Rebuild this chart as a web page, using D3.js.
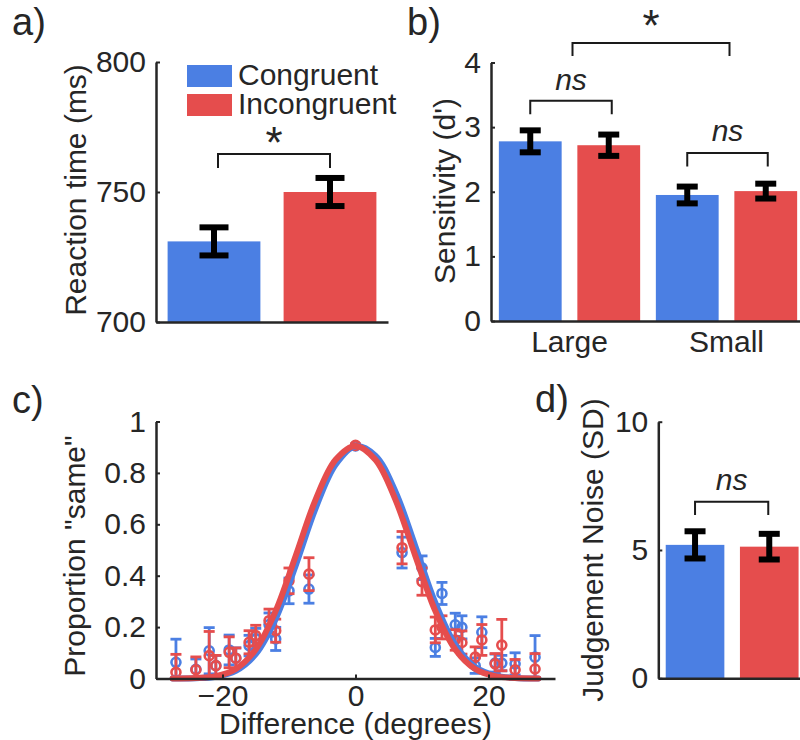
<!DOCTYPE html>
<html>
  <head>
    <meta charset="utf-8" />
    <script src="https://d3js.org/d3.v7.min.js"></script>
    <style>
      body {
        margin: 0px;
        background: #fff;
      }
      text {
        font-family: "Liberation Sans", Arial, sans-serif;
        fill: #262626;
      }
      .tick text {
        font-size: 30px;
      }
      .domain,
      .tick line {
        stroke: #262626;
      }
    </style>
  </head>
  <body>
    <svg width="800" height="740"></svg>
    <script>
      const blue = "#4b7fe3";
      const red = "#e54d4d";

      // a) reaction time
      const rtConds = ["Congruent", "Incongruent"];
      const rtMeans = [731, 750];
      const rtErr = [5.4, 5.4];
      const rtTicks = [700, 750, 800];

      // b) sensitivity
      const sizeGroups = ["Large", "Small"];
      const dCong = [2.78, 1.95];
      const dCongErr = [0.17, 0.13];
      const dIncong = [2.72, 2.01];
      const dIncongErr = [0.165, 0.115];
      const dTicks = [0, 1, 2, 3, 4];

      // c) proportion "same"
      const diffX = [-27, -24, -22, -21, -19, -18, -16, -15, -13, -12, -10, -7, 0,
                     7, 10, 12, 13, 15, 16, 18, 19, 21, 22, 24, 27];
      const propCong = [0.063, 0.036, 0.108, 0.05, 0.111, 0.079, 0.128, 0.155, 0.21, 0.154, 0.341, 0.348, 0.905,
                        0.49, 0.431, 0.121, 0.331, 0.209, 0.199, 0.05, 0.18, 0.06, 0.06, 0.057, 0.083];
      const propCongErr = [0.09, 0.04, 0.09, 0.04, 0.058, 0.04, 0.04, 0.04, 0.045, 0.045, 0.05, 0.055, 0.005,
                           0.06, 0.046, 0.035, 0.043, 0.045, 0.045, 0.03, 0.06, 0.035, 0.03, 0.043, 0.084];
      const propIncong = [0.024, 0.034, 0.089, 0.05, 0.102, 0.079, 0.141, 0.167, 0.225, 0.186, 0.38, 0.406, 0.907,
                          0.509, 0.377, 0.189, 0.199, 0.15, 0.14, 0.083, 0.15, 0.057, 0.13, 0.034, 0.037];
      const propIncongErr = [0.07, 0.05, 0.094, 0.04, 0.06, 0.04, 0.045, 0.04, 0.045, 0.045, 0.05, 0.064, 0.006,
                             0.063, 0.053, 0.05, 0.045, 0.04, 0.045, 0.04, 0.06, 0.04, 0.1, 0.04, 0.06];
      const fitX = [-27.5, -24, -21, -18, -15, -12, -9, -6, -3, 0, 3, 6, 9, 12, 15, 18, 21, 24, 27.5];
      const fitCong = [0.0, 0.001, 0.007, 0.03, 0.095, 0.232, 0.439, 0.662, 0.832, 0.904,
                       0.867, 0.728, 0.515, 0.295, 0.132, 0.045, 0.012, 0.002, 0.0];
      const fitIncong = [0.0, 0.002, 0.009, 0.037, 0.113, 0.263, 0.477, 0.696, 0.851, 0.905,
                         0.851, 0.696, 0.477, 0.263, 0.113, 0.037, 0.009, 0.002, 0.0];
      const propTicks = [0, 0.2, 0.4, 0.6, 0.8, 1];
      const diffTicks = [-20, 0, 20];

      // d) judgement noise
      const noiseMeans = [5.2, 5.13];
      const noiseErr = [0.53, 0.5];
      const noiseTicks = [0, 5, 10];

      const svg = d3.select("svg");

      function styleAxis(g) {
        g.select(".domain").attr("stroke-width", 2.5);
        g.selectAll(".tick line").attr("stroke-width", 2);
      }

      function yAxis(g, scale, ticks, fmt) {
        g.call(
          d3.axisLeft(scale)
            .tickValues(ticks)
            .tickSizeInner(-4)
            .tickSizeOuter(0)
            .tickPadding(10)
            .tickFormat(fmt || d3.format("~g"))
        );
        styleAxis(g);
      }

      function yLabel(x, y, text) {
        svg.append("text")
          .attr("transform", `translate(${x},${y}) rotate(-90)`)
          .attr("text-anchor", "middle")
          .style("font-size", "30px")
          .text(text);
      }

      function panelLabel(x, y, text) {
        svg.append("text")
          .attr("x", x)
          .attr("y", y)
          .style("font-size", "38px")
          .text(text);
      }

      function errorBar(g, cx, yTop, yBot, cap, width, color) {
        g.append("line")
          .attr("x1", cx).attr("x2", cx)
          .attr("y1", yTop).attr("y2", yBot)
          .attr("stroke", color).attr("stroke-width", width);
        [yTop, yBot].forEach((yy) => {
          g.append("line")
            .attr("x1", cx - cap / 2).attr("x2", cx + cap / 2)
            .attr("y1", yy).attr("y2", yy)
            .attr("stroke", color).attr("stroke-width", width);
        });
      }

      function bracket(x1, x2, yBar, yLeg, label, yText, italic, size) {
        svg.append("path")
          .attr("d", `M${x1},${yLeg}V${yBar}H${x2}V${yLeg}`)
          .attr("fill", "none")
          .attr("stroke", "#1a1a1a")
          .attr("stroke-width", 2);
        svg.append("text")
          .attr("x", (x1 + x2) / 2)
          .attr("y", yText)
          .attr("text-anchor", "middle")
          .style("font-size", size + "px")
          .style("font-style", italic ? "italic" : "normal")
          .text(label);
      }

      // ---------- a) ----------
      const xA = d3.scaleBand().domain(rtConds).range([156, 388])
        .paddingInner(0.2).paddingOuter(0.1);
      const yA = d3.scaleLinear().domain([700, 800]).range([322, 62]);
      const gA = svg.append("g");

      gA.selectAll("rect.bar")
        .data(rtConds)
        .enter()
        .append("rect")
        .attr("class", "bar")
        .attr("x", (d) => xA(d))
        .attr("width", xA.bandwidth())
        .attr("y", (d, i) => yA(rtMeans[i]))
        .attr("height", (d, i) => yA(700) - yA(rtMeans[i]))
        .attr("fill", (d, i) => (i === 0 ? blue : red));

      rtConds.forEach((c, i) => {
        errorBar(gA, xA(c) + xA.bandwidth() / 2,
          yA(rtMeans[i] + rtErr[i]), yA(rtMeans[i] - rtErr[i]), 29, 6, "#000");
      });

      gA.append("g")
        .attr("transform", `translate(0,${yA(700)})`)
        .call(d3.axisBottom(xA).tickValues([]).tickSizeOuter(0))
        .call(styleAxis);
      gA.append("g").attr("transform", "translate(156,0)")
        .call((g) => yAxis(g, yA, rtTicks));

      // legend
      rtConds.forEach((c, i) => {
        gA.append("rect")
          .attr("x", 187).attr("y", 65 + i * 29)
          .attr("width", 45).attr("height", 22)
          .attr("fill", i === 0 ? blue : red);
        gA.append("text")
          .attr("x", 238).attr("y", 85 + i * 29)
          .style("font-size", "30px")
          .text(c);
      });

      bracket(xA(rtConds[0]) + xA.bandwidth() / 2 + 4, xA(rtConds[1]) + xA.bandwidth() / 2,
        yA(764.6), yA(759.2), "*", 158, false, 44);

      yLabel(86, 190, "Reaction time (ms)");
      panelLabel(12, 35, "a)");

      // ---------- b) ----------
      const xB = d3.scaleBand().domain(sizeGroups).range([491, 805]).padding(0);
      const xBin = d3.scaleBand().domain(["c", "i"]).range([0, xB.bandwidth()])
        .paddingInner(0.2).paddingOuter(0.1);
      const yB = d3.scaleLinear().domain([0, 4]).range([321, 62.5]);
      const gB = svg.append("g");

      sizeGroups.forEach((grp, i) => {
        const vals = [[dCong[i], dCongErr[i], blue, "c"], [dIncong[i], dIncongErr[i], red, "i"]];
        vals.forEach(([v, e, col, k]) => {
          const x0 = xB(grp) + xBin(k);
          gB.append("rect")
            .attr("x", x0).attr("width", xBin.bandwidth())
            .attr("y", yB(v)).attr("height", yB(0) - yB(v))
            .attr("fill", col);
          errorBar(gB, x0 + xBin.bandwidth() / 2, yB(v + e), yB(v - e), 21, 6, "#000");
        });
      });

      gB.append("g")
        .attr("transform", `translate(0,${yB(0)})`)
        .call(d3.axisBottom(xB).tickSize(0).tickPadding(10).tickSizeOuter(0))
        .call(styleAxis);
      gB.append("g").attr("transform", "translate(491,0)")
        .call((g) => yAxis(g, yB, dTicks));

      const cB = (grp, k) => xB(grp) + xBin(k) + xBin.bandwidth() / 2;
      bracket(cB("Large", "c"), cB("Large", "i") + 3, yB(3.41), yB(3.2), "ns", yB(3.58), true, 30);
      bracket(cB("Small", "c"), cB("Small", "i") + 2, yB(2.6), yB(2.39), "ns", yB(2.78), true, 30);
      bracket(xB("Large") + xB.bandwidth() / 2 + 3, xB("Small") + xB.bandwidth() / 2 + 3,
        yB(4.3), yB(4.1), "*", 41, false, 44);

      yLabel(455, 191, "Sensitivity (d')");
      panelLabel(407, 35, "b)");

      // ---------- c) ----------
      const xC = d3.scaleLinear().domain([-30, 30]).range([156, 555]);
      const yC = d3.scaleLinear().domain([0, 1]).range([678.5, 421.5]);
      const gC = svg.append("g");

      const series = [
        { y: propCong, e: propCongErr, fit: fitCong, col: blue },
        { y: propIncong, e: propIncongErr, fit: fitIncong, col: red },
      ];

      series.forEach((s) => {
        diffX.forEach((x, i) => {
          const cx = xC(x);
          const lo = Math.max(0, s.y[i] - s.e[i]);
          errorBar(gC, cx, yC(s.y[i] + s.e[i]), yC(lo), 11, 2.8, s.col);
          gC.append("circle")
            .attr("cx", cx).attr("cy", yC(s.y[i]))
            .attr("r", 4.5)
            .attr("fill", "none")
            .attr("stroke", s.col)
            .attr("stroke-width", 2.6);
        });
      });

      const line = d3.line()
        .x((d) => xC(d[0]))
        .y((d) => yC(d[1]))
        .curve(d3.curveCatmullRom.alpha(0.5));

      series.forEach((s) => {
        gC.append("path")
          .datum(fitX.map((x, i) => [x, s.fit[i]]))
          .attr("d", line)
          .attr("fill", "none")
          .attr("stroke", s.col)
          .attr("stroke-width", 6)
          .attr("stroke-linecap", "round");
      });

      gC.append("g")
        .attr("transform", `translate(0,${yC(0)})`)
        .call(
          d3.axisBottom(xC).tickValues(diffTicks).tickSizeInner(-4)
            .tickSizeOuter(0).tickPadding(6)
        )
        .call(styleAxis);
      gC.append("g").attr("transform", "translate(156,0)")
        .call((g) => yAxis(g, yC, propTicks));

      gC.append("text")
        .attr("x", 355.5).attr("y", 734)
        .attr("text-anchor", "middle")
        .style("font-size", "30px")
        .text("Difference (degrees)");

      yLabel(85, 556, 'Proportion "same"');
      panelLabel(12, 413, "c)");

      // ---------- d) ----------
      const xD = d3.scaleBand().domain(rtConds).range([658.3, 806])
        .paddingInner(0.21).paddingOuter(0.1);
      const yD = d3.scaleLinear().domain([0, 10]).range([678.3, 421.7]);
      const gD = svg.append("g");

      gD.selectAll("rect.bar")
        .data(rtConds)
        .enter()
        .append("rect")
        .attr("class", "bar")
        .attr("x", (d) => xD(d))
        .attr("width", xD.bandwidth())
        .attr("y", (d, i) => yD(noiseMeans[i]))
        .attr("height", (d, i) => yD(0) - yD(noiseMeans[i]))
        .attr("fill", (d, i) => (i === 0 ? blue : red));

      rtConds.forEach((c, i) => {
        errorBar(gD, xD(c) + xD.bandwidth() / 2,
          yD(noiseMeans[i] + noiseErr[i]), yD(noiseMeans[i] - noiseErr[i]), 21, 6, "#000");
      });

      gD.append("g")
        .attr("transform", `translate(0,${yD(0)})`)
        .call(d3.axisBottom(xD).tickValues([]).tickSizeOuter(0))
        .call(styleAxis);
      gD.append("g").attr("transform", "translate(658.3,0)")
        .call((g) => yAxis(g, yD, noiseTicks));

      bracket(xD(rtConds[0]) + xD.bandwidth() / 2, xD(rtConds[1]) + xD.bandwidth() / 2 - 1,
        yD(6.88), yD(6.36), "ns", yD(7.34), true, 30);

      yLabel(603, 550, "Judgement Noise (SD)");
      panelLabel(535, 412, "d)");
    </script>
  </body>
</html>
